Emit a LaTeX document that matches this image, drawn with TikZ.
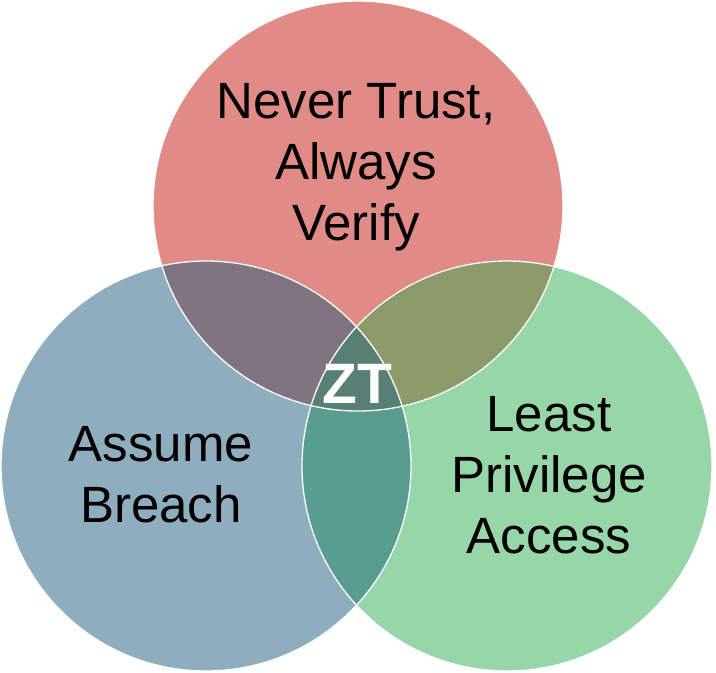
\documentclass[tikz,border=0pt]{standalone}
\usepackage{fontspec}
\setmainfont{Liberation Sans}
\definecolor{trustRed}{HTML}{E08B85}
\definecolor{breachBlue}{HTML}{8EADBF}
\definecolor{leastGreen}{HTML}{96D6A9}
\definecolor{trustBreach}{HTML}{807481}
\definecolor{trustLeast}{HTML}{8C9B69}
\definecolor{breachLeast}{HTML}{589D90}
\definecolor{ztCore}{HTML}{577F74}
\usetikzlibrary{positioning}

\begin{document}
\begin{tikzpicture}[
    x=1pt, y=-1pt,
    rim/.style={draw=white, line width=1.3pt},
    word/.style={align=center, inner sep=0pt, anchor=north,
                 font=\fontsize{51}{61}\selectfont}
  ]
    \useasboundingbox (0,0) rectangle (716,673);
    \def\vennr{205pt}
    \coordinate (trust) at (358,206);
    \coordinate (breach) at (206,466);
    \coordinate (least) at (507,466);

    % base discs
    \fill[trustRed] (trust) circle (\vennr);
    \fill[breachBlue] (breach) circle (\vennr);
    \fill[leastGreen] (least) circle (\vennr);

    % pairwise overlaps
    \begin{scope}
      \clip (trust) circle (\vennr);
      \fill[trustBreach] (breach) circle (\vennr);
      \fill[trustLeast] (least) circle (\vennr);
    \end{scope}
    \begin{scope}
      \clip (breach) circle (\vennr);
      \fill[breachLeast] (least) circle (\vennr);
    \end{scope}
    \begin{scope}
      \clip (trust) circle (\vennr);
      \clip (breach) circle (\vennr);
      \fill[ztCore] (least) circle (\vennr);
    \end{scope}

    % outlines
    \draw[rim] (trust) circle (\vennr);
    \draw[rim] (breach) circle (\vennr);
    \draw[rim] (least) circle (\vennr);

    \node[word] (never) at (356,83.5) {Never Trust,\\Always\\Verify};
    \node[word] (assume) at (161,426.5) {Assume\\Breach};
    \node[word] (privilege) at (549,396.5) {Least\\Privilege\\Access};
    \node[anchor=base, inner sep=0pt, text=white,
          font=\fontsize{57}{60}\selectfont\bfseries] (zt) at (357,403) {ZT};
  \end{tikzpicture}
\end{document}
